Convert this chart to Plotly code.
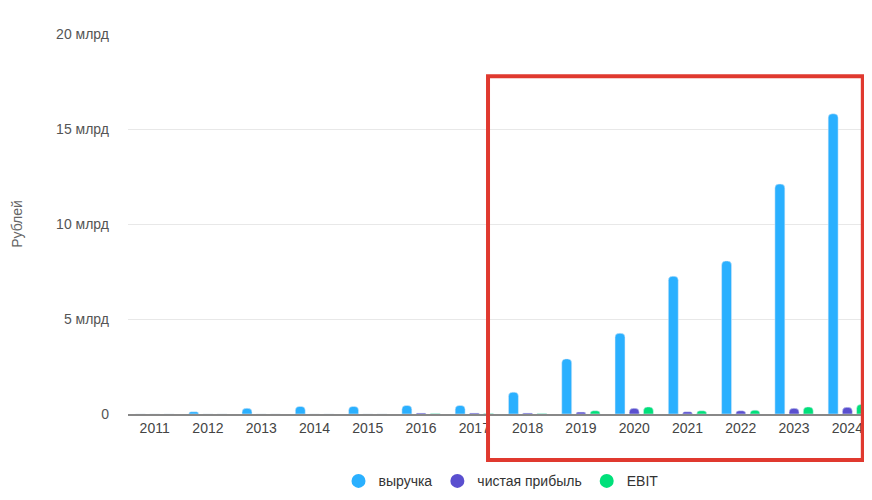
import plotly.graph_objects as go

years = ["2011","2012","2013","2014","2015","2016","2017","2018","2019","2020","2021","2022","2023","2024"]
revenue = [0, 0.12, 0.3, 0.4, 0.4, 0.45, 0.45, 1.15, 2.9, 4.25, 7.25, 8.05, 12.1, 15.8]
net_profit = [0, 0, 0, 0, 0, 0.05, 0.05, 0.05, 0.1, 0.3, 0.12, 0.17, 0.3, 0.35]
ebit = [0, 0, 0, 0, 0, 0.03, 0.03, 0.03, 0.17, 0.37, 0.17, 0.2, 0.37, 0.5]
names = ["выручка", "чистая прибыль", "EBIT"]
colors = ["#2AB0FF", "#5A4FCF", "#00E07A"]
tickvals = [0, 5, 10, 15, 20]
ticktext = ["0", "5 млрд", "10 млрд", "15 млрд", "20 млрд"]

fig = go.Figure()
for n, vals, c in zip(names, [revenue, net_profit, ebit], colors):
    fig.add_bar(x=years, y=vals, name=n, marker_color=c, showlegend=False)
    fig.add_scatter(x=[None], y=[None], mode="markers", name=n,
                    marker=dict(color=c, size=14, symbol="circle"))

fig.update_layout(
    width=872, height=500, margin=dict(l=120, r=6, t=26, b=94),
    plot_bgcolor="white", paper_bgcolor="white",
    font=dict(family="Liberation Sans, Arial, sans-serif", size=14, color="#555"),
    barmode="group", bargap=0.2, bargroupgap=0.3, barcornerradius=4,
    legend=dict(orientation="h", x=0.5, xanchor="center", y=-0.135, yanchor="top",
                font=dict(size=14, color="#333")),
    xaxis=dict(showline=True, linecolor="#888", linewidth=2, ticks="",
               tickfont=dict(color="#444"), automargin=False),
    yaxis=dict(range=[0, 20], tickvals=tickvals, ticktext=ticktext,
               gridcolor="#e8e8e8", zeroline=False, ticklabelstandoff=18,
               automargin=False,
               title=dict(text="Рублей", font=dict(size=14, color="#666"), standoff=30)),
    shapes=[dict(type="rect", xref="paper", yref="paper",
                 x0=0.4826, x1=0.985, y0=-0.121, y1=0.889,
                 line=dict(color="#E0392F", width=4))],
)
fig.write_html("out.html")
